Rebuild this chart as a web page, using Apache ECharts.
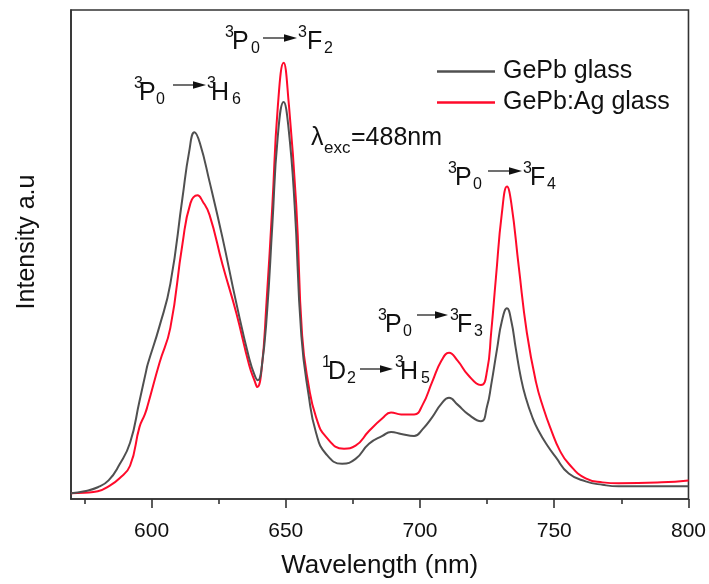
<!DOCTYPE html>
<html>
<head>
<meta charset="utf-8">
<script src="https://cdn.jsdelivr.net/npm/echarts@6/dist/echarts.min.js"></script>
<style>html,body{margin:0;padding:0;background:#fff}#c{width:709px;height:584px}</style>
</head>
<body>
<div id="c"></div>
<script>
// ---- data ----
var seriesNames = ['GePb glass', 'GePb:Ag glass'];
var gepb = [[570,12],[575,16],[580,24],[584,38],[588,70],[592,115],[595.5,200],[598,262],[598.6,276],[603,354],[607,440],[611.5,615],[614,710],[616,750],[618,728],[621.6,649],[626.4,535],[631.6,400],[636.4,287],[638.5,252],[639.6,243],[641,268],[643,380],[645,561],[647,740],[649.2,812],[651,760],[653.3,601],[655.8,334],[658.5,213],[661.3,135],[665,92],[671,72],[676,82],[681,113],[686,129],[689.2,137],[693,133],[697.8,129],[701,143],[704.5,167],[708,195],[710.8,207],[714,193],[718,173],[722.7,159],[725,190],[726.5,233],[728.7,307],[730.5,364],[732.4,390],[734,364],[735.7,307],[737.5,250],[739.4,207],[742,165],[744.2,139],[747,113],[750.5,86],[755.4,52],[761.7,36],[768,29],[774,26],[790,26],[800,26]];
var gepbAg = [[570,12],[575,13],[580,16],[584,26],[588,42],[592,68],[595.5,147],[597.5,173],[598.5,190],[603,279],[607,350],[611.5,521],[614.5,605],[617.1,621],[619,609],[621.6,581],[626.4,480],[631.6,380],[636.4,273],[638.5,240],[639.4,229],[641,265],[642.8,400],[645,601],[647,800],[649.2,892],[651,816],[653.9,601],[656.1,334],[658.5,233],[661.3,167],[665,127],[671.7,103],[676,109],[681,139],[686,165],[689.2,177],[693,173],[697.8,173],[701,193],[704.5,239],[708,283],[710.8,299],[714,283],[718,253],[722.7,233],[725,263],[726.5,340],[728.3,454],[730.5,585],[732.4,639],[734,605],[736.8,474],[739.8,340],[743.2,239],[746,185],[749,139],[752,100],[755.4,72],[761.7,42],[768,34],[774,32],[790,34],[800,38]];
var majorTicks = [600, 650, 700, 750, 800];
var minorTicks = [575, 625, 675, 725, 775];
var xTitle = 'Wavelength (nm)';
var yTitle = 'Intensity a.u';

// ---- annotation helpers ----
var FONT = '"Liberation Sans", Arial, sans-serif';
var TXT = '#111';
function txt(x, y, s, size) {
  return {type:'text', x:x, y:y, silent:true, style:{text:s, fill:TXT, font: size + 'px ' + FONT, textAlign:'left', textVerticalAlign:'middle', verticalAlign:'middle'}};
}
function arrow(x1, x2, y) {
  return [
    {type:'line', silent:true, shape:{x1:x1, y1:y, x2:x2-10, y2:y}, style:{stroke:'#222', lineWidth:1.3}},
    {type:'polygon', silent:true, shape:{points:[[x2,y],[x2-13,y-3.8],[x2-13,y+3.8]]}, style:{fill:'#111'}}
  ];
}
function trans(p) {
  var out = [];
  out.push(txt(p.x[0], p.yc - 9, p.t[0], 16));
  out.push(txt(p.x[1], p.yc, p.t[1], 25));
  out.push(txt(p.x[2], p.yc + 7, p.t[2], 16));
  out = out.concat(arrow(p.a[0], p.a[1], p.ay));
  out.push(txt(p.x[3], p.yc - 9, p.t[3], 16));
  out.push(txt(p.x[4], p.yc, p.t[4], 25));
  out.push(txt(p.x[5], p.yc + 7, p.t[5], 16));
  return out;
}
var graphics = [];
graphics = graphics.concat(trans({t:['3','P','0','3','H','6'], x:[134,139,156,207,211,232], yc:93, a:[173,206], ay:85}));
graphics = graphics.concat(trans({t:['3','P','0','3','F','2'], x:[225,232,251,298,307,324], yc:42, a:[263,297], ay:38}));
graphics = graphics.concat(trans({t:['3','P','0','3','F','4'], x:[448,455,473,523,530,547], yc:178, a:[488,522], ay:171}));
graphics = graphics.concat(trans({t:['3','P','0','3','F','3'], x:[378,385,403,450,457,474], yc:325, a:[417,448], ay:315}));
graphics = graphics.concat(trans({t:['1','D','2','3','H','5'], x:[322,328,347,395,400,421], yc:372, a:[360,393], ay:369}));
graphics.push(txt(311, 138, '\u03bb', 25));
graphics.push(txt(324, 148, 'exc', 17));
graphics.push(txt(351, 138, '=488nm', 25));
graphics.push({type:'text', x:27, y:242, rotation:Math.PI/2, silent:true,
  style:{text:yTitle, fill:TXT, font:'25px ' + FONT, textAlign:'center', textVerticalAlign:'middle', verticalAlign:'middle'}});

var chart = echarts.init(document.getElementById('c'), null, {renderer:'canvas'});
var axisCol = '#333';
chart.setOption({
  animation:false,
  backgroundColor:'#fff',
  grid:{left:71, right:18, top:10, bottom:78, show:true, borderColor:axisCol, borderWidth:1.6, backgroundColor:'transparent'},
  legend:{
    orient:'vertical', left:432, top:54, itemWidth:58, itemHeight:2.5, itemGap:6, icon:'rect',
    data:seriesNames,
    textStyle:{fontFamily:FONT, fontSize:25, color:TXT, lineHeight:25, padding:[0,0,0,3]}
  },
  xAxis:[{
    type:'value', min:570, max:800,
    axisLine:{show:true, lineStyle:{color:axisCol, width:1.6}},
    axisTick:{show:true, customValues:majorTicks, length:9, inside:false, lineStyle:{color:axisCol, width:1.6}},
    axisLabel:{customValues:majorTicks, margin:22, fontFamily:FONT, fontSize:21, color:TXT},
    splitLine:{show:false},
    name:xTitle, nameLocation:'middle', nameGap:54,
    nameTextStyle:{fontFamily:FONT, fontSize:26, color:TXT}
  },{
    type:'value', min:570, max:800, position:'bottom',
    axisLine:{show:false},
    axisTick:{show:true, customValues:minorTicks, length:5, lineStyle:{color:axisCol, width:1.6}},
    axisLabel:{show:false},
    splitLine:{show:false}
  }],
  yAxis:{
    type:'value', min:0, max:1000,
    axisLine:{show:true, lineStyle:{color:axisCol, width:1.6}},
    axisTick:{show:false}, axisLabel:{show:false}, splitLine:{show:false}
  },
  series:[{
    name:seriesNames[0], type:'line', data:gepb, xAxisIndex:0, symbol:'none', smooth:0.5,
    lineStyle:{color:'#505050', width:2}, itemStyle:{color:'#505050'}, z:3
  },{
    name:seriesNames[1], type:'line', data:gepbAg, xAxisIndex:0, symbol:'none', smooth:0.5,
    lineStyle:{color:'#ff0a2a', width:2}, itemStyle:{color:'#ff0a2a'}, z:2
  }],
  graphic:graphics
});
</script>
</body>
</html>
